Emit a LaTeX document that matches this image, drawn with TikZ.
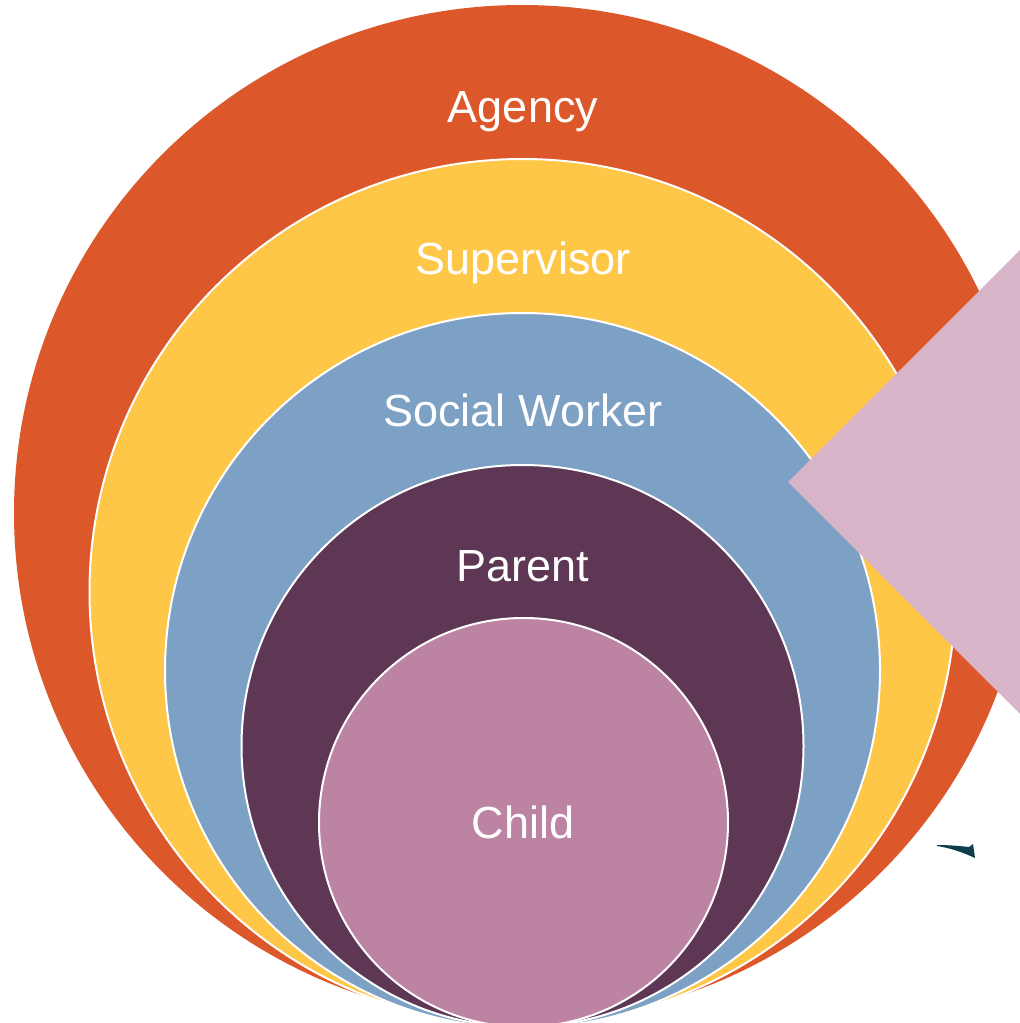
\documentclass[tikz,border=0pt]{standalone}
\usepackage{fontspec}
\setmainfont{Liberation Sans}
\definecolor{agency}{HTML}{DC582A}
\definecolor{superv}{HTML}{FEC748}
\definecolor{social}{HTML}{7DA1C4}
\definecolor{parent}{HTML}{5E3754}
\definecolor{child}{HTML}{BD83A2}
\definecolor{diam}{HTML}{D7B4C8}
\definecolor{teal}{HTML}{0E3E4E}
\begin{document}
\begin{tikzpicture}[x=1pt,y=-1pt,
  ring/.style={circle, draw=white, line width=2pt, inner sep=0pt, outer sep=0pt},
  lab/.style={text=white, font=\fontsize{45}{54}\selectfont, anchor=base, inner sep=0pt}]
\useasboundingbox (0,0) rectangle (1020,1023);
\clip (0,0) rectangle (1020,1023);
\node[ring, fill=agency, draw=none, minimum size=1016pt] (agency) at (522,513) {};
\node[ring, fill=superv, minimum size=866pt] (superv) at (522.5,592) {};
\node[ring, fill=social, minimum size=715pt] (social) at (522.5,670.5) {};
\node[ring, fill=parent, minimum size=562pt] (parent) at (522.5,746) {};
\node[ring, fill=child, minimum size=409pt] (child) at (523.5,822.5) {};
\node[lab] (tagency) at (523,122) {Agency};
\node[lab] (tsuperv) at (523,274) {Supervisor};
\node[lab] (tsocial) at (523,426) {Social Worker};
\node[lab] (tparent) at (523,581) {Parent};
\node[lab] (tchild) at (523,838) {Child};
\fill[diam] (788,482) -- (1030,240) -- (1272,482) -- (1030,724) -- cycle;
\fill[teal] (937,845) .. controls (950,845) and (960,846) .. (969,847) -- (973,844) -- (975,858) .. controls (962,852) and (950,848) .. (937,846) -- cycle;
\end{tikzpicture}
\end{document}
